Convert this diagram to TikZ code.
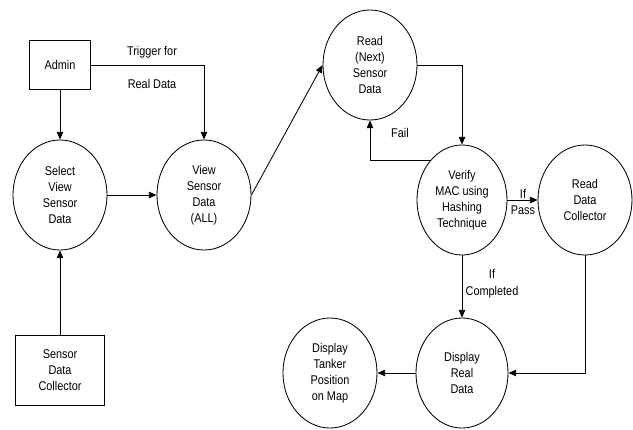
\documentclass[tikz,border=0pt]{standalone}
\usepackage{fontspec}
\setmainfont{Liberation Sans}[FakeStretch=0.86]
\usetikzlibrary{shapes.geometric,arrows.meta}
\tikzset{
  process/.style={ellipse, draw, minimum width=2.35cm, minimum height=2.75cm, inner sep=0pt, align=center, font=\fontsize{9}{11.4}\selectfont},
  entity/.style={rectangle, draw, align=center, inner sep=0pt, font=\fontsize{9}{11.4}\selectfont},
  flowlabel/.style={align=center, inner sep=0pt, font=\fontsize{9}{11.8}\selectfont},
  flow/.style={-{Triangle[length=5.5pt,width=4.6pt]}, line width=0.6pt}
}
\begin{document}
\begin{tikzpicture}[x=0.025cm, y=-0.025cm, line width=0.6pt]
  \useasboundingbox (0,0) rectangle (633,429);
  % entities
  \node[entity, minimum width=1.52cm, minimum height=1.22cm] (admin) at (60,65) {Admin};
  \node[entity, minimum width=2.22cm, minimum height=1.75cm] (sensordc) at (60,370) {Sensor\\Data\\Collector};

  % processes
  \node[process] (selview) at (60,195) {Select\\View\\Sensor\\Data};
  \node[process] (viewall) at (204,195) {View\\Sensor\\Data\\(ALL)};
  \node[process] (readnext) at (370,65) {Read\\(Next)\\Sensor\\Data};
  \node[process, minimum width=2.25cm] (verify) at (462,200) {Verify\\MAC using\\Hashing\\Technique};
  \node[process] (readdc) at (585,200) {Read\\Data\\Collector};
  \node[process, minimum width=2.3cm] (dispreal) at (462,373) {Display\\Real\\Data};
  \node[process] (disptank) at (330,373) {Display\\Tanker\\Position\\on Map};

  % flows
  \draw[flow] (admin.south) -- (selview.north);
  \draw[flow] (admin.east) -| (viewall.north);
  \draw[flow] (sensordc.north) -- (selview.south);
  \draw[flow] (selview.east) -- (viewall.west);
  \draw[flow] (viewall.east) -- (readnext.west);
  \draw[flow] (readnext.east) -| (verify.north);
  \draw[flow] (verify.north west) -| (readnext.south);
  \draw[flow] (verify.east) -- (readdc.west);
  \draw[flow] (verify.south) -- (dispreal.north);
  \draw[flow] (readdc.south) |- (dispreal.east);
  \draw[flow] (dispreal.west) -- (disptank.east);

  % labels
  \node[flowlabel] (trigger) at (152,52) {Trigger for};
  \node[flowlabel] (realdata) at (152,84) {Real Data};
  \node[flowlabel] (fail) at (400,133) {Fail};
  \node[flowlabel] (ifpass) at (523,202) {If\\Pass};
  \node[flowlabel] (ifdone) at (492,284) {If\\Completed};
\end{tikzpicture}
\end{document}
